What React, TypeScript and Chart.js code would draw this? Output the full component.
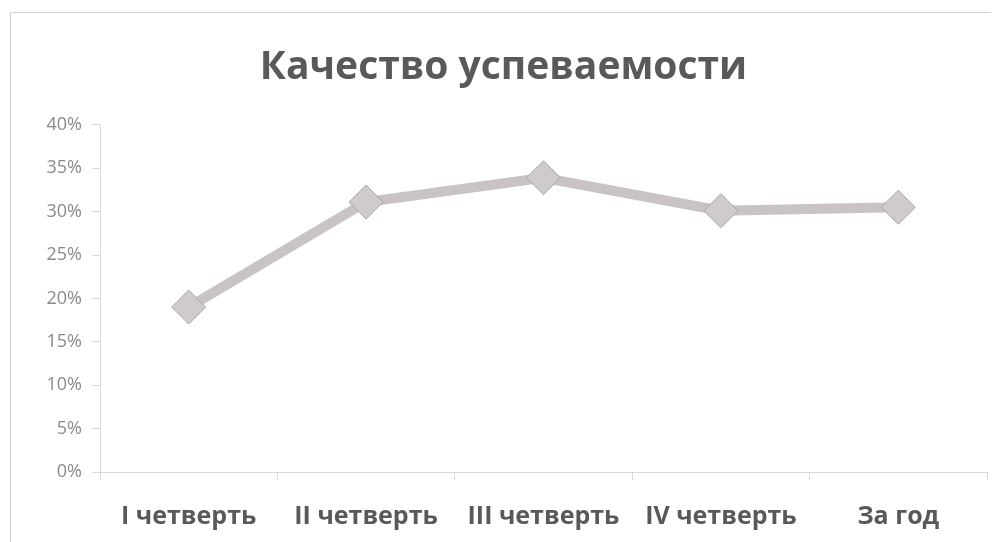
import React, { useEffect, useRef } from "react";
import { Chart, registerables } from "chart.js";

Chart.register(...registerables);

const categories = ["I четверть", "II четверть", "III четверть", "IV четверть", "За год"];
const values = [19.0, 31.1, 33.9, 30.1, 30.5];
const chartTitle = "Качество успеваемости";
const yMin = 0;
const yMax = 40;
const yStep = 5;

export default function App() {
  const ref = useRef<HTMLCanvasElement | null>(null);
  useEffect(() => {
    if (!ref.current) return;
    const chart = new Chart(ref.current, {
      type: "line",
      data: {
        labels: categories,
        datasets: [
          {
            data: values,
            borderColor: "#c9c3c4",
            borderWidth: 10,
            pointStyle: "rectRot",
            pointRadius: 17,
            pointBackgroundColor: "#cfcacb",
            pointBorderColor: "#aaa4a5",
            pointBorderWidth: 1,
            tension: 0,
          },
        ],
      },
      options: {
        animation: false,
        responsive: false,
        layout: { autoPadding: false, padding: { left: 12, right: 12, top: 0, bottom: 0 } },
        plugins: {
          legend: { display: false },
          tooltip: { enabled: false },
          title: {
            display: true,
            text: chartTitle,
            color: "#595959",
            font: { family: "'Open Sans', sans-serif", size: 39, weight: "bold" },
            padding: { top: 36, bottom: 34 },
          },
        },
        scales: {
          x: {
            offset: true,
            grid: { display: true, drawOnChartArea: false, tickLength: 8, color: "#d9d9d9", offset: true },
            border: { color: "#d9d9d9" },
            ticks: {
              color: "#595959",
              padding: 22,
              font: { family: "'Open Sans', sans-serif", size: 25, weight: "bold" },
            },
            afterFit: (s: any) => {
              s.height = 70;
              s.paddingLeft = 0;
              s.paddingRight = 0;
            },
          },
          y: {
            min: yMin,
            max: yMax,
            grid: { display: true, drawOnChartArea: false, tickLength: 8, color: "#d9d9d9" },
            border: { color: "#d9d9d9" },
            ticks: {
              stepSize: yStep,
              color: "#8a8a8a",
              padding: 10,
              font: { family: "'Open Sans', sans-serif", size: 18 },
              callback: (v: any) => v + "%",
            },
            afterFit: (s: any) => {
              s.width = 80;
            },
          },
        },
      },
    });
    return () => chart.destroy();
  }, []);
  return (
    <div style={{ position: "relative", width: 991, height: 534, background: "#fff" }}>
      <div
        style={{
          position: "absolute",
          left: 2,
          top: 4,
          right: -10,
          bottom: -10,
          borderLeft: "1px solid #d0d0d0",
          borderTop: "1px solid #d0d0d0",
          pointerEvents: "none",
        }}
      />
      <canvas ref={ref} width={991} height={534} style={{ position: "absolute", left: 0, top: 0 }} />
    </div>
  );
}
